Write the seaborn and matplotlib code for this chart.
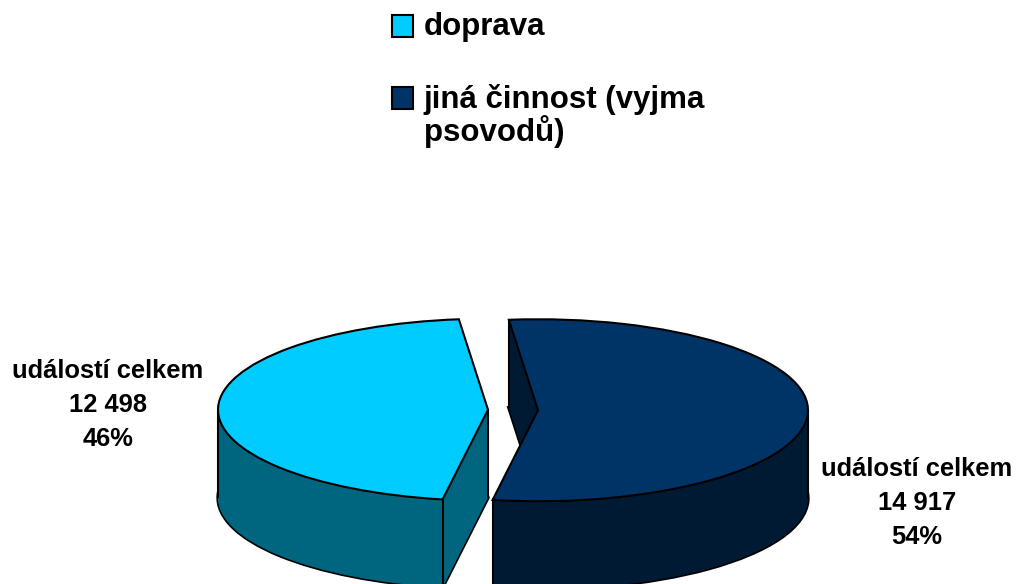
import numpy as np
import matplotlib
matplotlib.use("Agg")
import matplotlib.pyplot as plt
from matplotlib.offsetbox import HPacker
from matplotlib.patches import Rectangle
from matplotlib.legend_handler import HandlerPatch
import seaborn as sns

# ---------- DATA ----------
CATEGORIES = ["doprava", "jiná činnost (vyjma\npsovodů)"]
EVENTS = [12498, 14917]
LABEL_PREFIX = "událostí celkem"

TOP_COLORS = ["#00CCFF", "#003366"]
SIDE_COLORS = ["#006680", "#001A33"]

# ---------- LAYOUT (pixels) ----------
W, H = 1019, 584
RX, RY = 270, 91        # poloosy elipsy v px
DEPTH = 88              # vyska valce v px
CX, CY = 513, 410       # stred kolace v px
EXPLODE_PX = 25
START = 96.2
LW = 1.5

sns.set_theme(style="white")
plt.rcParams["font.family"] = ["Liberation Sans", "DejaVu Sans"]
plt.rcParams["text.color"] = "black"

fig = plt.figure(figsize=(W / 100, H / 100), dpi=100)
ax = fig.add_axes([0, 0, 1, 1])

cx, cy = CX / RX, (H - CY) / RY
depth = DEPTH / RY
explode = [EXPLODE_PX / RX] * len(EVENTS)

# spodni obrys
ax.pie(EVENTS, colors=SIDE_COLORS, startangle=START, explode=explode,
       center=(cx, cy - depth),
       wedgeprops=dict(edgecolor="black", linewidth=LW * 1.6))

# boky - vrstvy
for off in np.linspace(depth, 0, DEPTH + 1)[:-1]:
    ax.pie(EVENTS, colors=SIDE_COLORS, startangle=START, explode=explode,
           center=(cx, cy - off),
           wedgeprops=dict(edgecolor="none", linewidth=0))

# svisle hrany
fracs = np.array(EVENTS) / np.sum(EVENTS)
edges = START + 360 * np.concatenate([[0], np.cumsum(fracs)])
mids = (edges[:-1] + edges[1:]) / 2


def slice_center(i):
    m = np.deg2rad(mids[i])
    return cx + explode[i] * np.cos(m), cy + explode[i] * np.sin(m)


def slice_point(i, theta):
    x0, y0 = slice_center(i)
    t = np.deg2rad(theta)
    return x0 + np.cos(t), y0 + np.sin(t)


verts = [slice_point(0, 180), slice_point(0, edges[1]), slice_center(0),
         slice_point(1, 360), slice_point(1, edges[1]), slice_point(1, edges[2])]
for x, y in verts:
    ax.vlines(x, y - depth, y, colors="black", linewidth=LW)

# horni plocha
top_wedges, _ = ax.pie(EVENTS, colors=TOP_COLORS, startangle=START, explode=explode,
                       center=(cx, cy),
                       wedgeprops=dict(edgecolor="black", linewidth=LW))

ax.set_aspect("auto")
ax.set_xlim(0, W / RX)
ax.set_ylim(0, H / RY)
ax.axis("off")

# popisky
total = sum(EVENTS)
label_pos = [(108, 405), (917, 503)]
for val, (px, py) in zip(EVENTS, label_pos):
    txt = f"{LABEL_PREFIX}\n{val:,}".replace(",", " ") + f"\n{round(val / total * 100)}%"
    fig.text(px / W, 1 - py / H, txt, ha="center", va="center", color="black",
             fontsize=18.4, fontweight="bold", linespacing=1.5)


# legenda - ctverecek o kousek niz
def square(legend, orig_handle, xdescent, ydescent, width, height, fontsize):
    return Rectangle((-xdescent, -ydescent - 0.1 * fontsize), width, height)


leg = ax.legend(top_wedges, CATEGORIES, loc="upper left",
                bbox_to_anchor=(392 / W, 1 - 12 / H), bbox_transform=fig.transFigure,
                frameon=False, prop={"size": 22.5, "weight": "bold"},
                handlelength=0.68, handleheight=0.68, handletextpad=0.33,
                labelspacing=1.35, borderpad=0, borderaxespad=0,
                handler_map={w: HandlerPatch(patch_func=square) for w in top_wedges})
for t in leg.get_texts():
    t.set_linespacing(1.0)
    t.set_color("black")
for hp in leg.findobj(HPacker):
    hp.align = "top"

fig.savefig("out.png", dpi=100)
